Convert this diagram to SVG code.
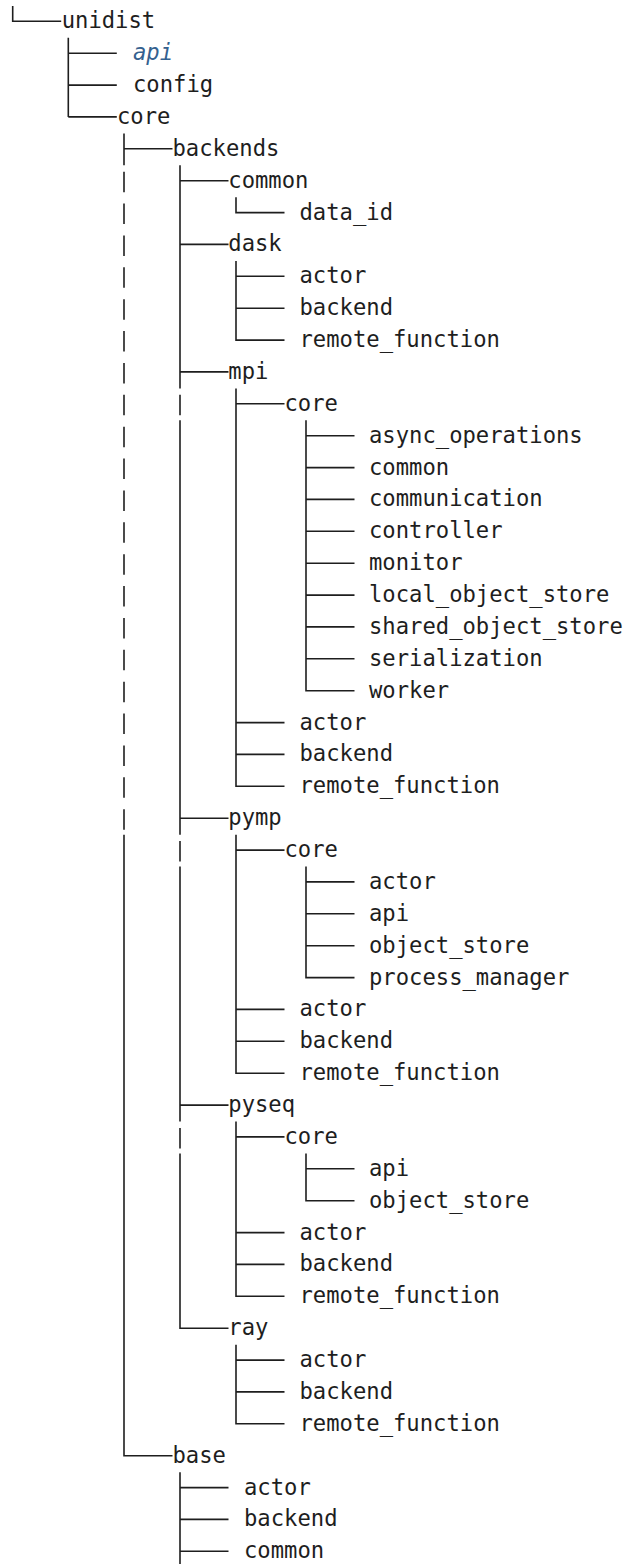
<svg xmlns="http://www.w3.org/2000/svg" width="635" height="1564" viewBox="0 0 635 1564">
  <style>
    .t { font-family: "DejaVu Sans Mono", "Liberation Mono", monospace; font-size: 22.2px; fill: #1e1e1e; }
    .ref { font-style: italic; fill: #34618f; }
    .wire { fill: none; stroke: #1e1e1e; stroke-width: 1.6; }
  </style>
  <rect width="635" height="1564" fill="#ffffff"/>

  <!-- tree connectors -->
  <g id="connectors" class="wire">
    <!-- root -->
    <path d="M12.7 5.9V21.3H61.2"/>
    <!-- unidist children -->
    <path d="M68.3 37.8V116.9M68.3 53.2H116.8M68.3 85.1H116.8M68.3 116.9H116.8"/>
    <!-- core children: backends, base -->
    <path d="M124 133.4V165.3M124 148.8H172.5"/>
    <path d="M124 171.7V192.2M124 203.6V224.1M124 235.4V255.9M124 267.3V287.8M124 299.2V319.7M124 331.1V351.6M124 362.9V383.4M124 394.8V415.3M124 426.7V447.2M124 458.6V479.1M124 490.4V510.9M124 522.3V542.8M124 554.2V574.7M124 586.1V606.6M124 617.9V638.4M124 649.8V670.3M124 681.7V702.2M124 713.6V734.1M124 745.4V765.9M124 777.3V797.8M124 809.2V829.7"/>
    <path d="M124 834.7V1455.7H172.5"/>
    <!-- backends children -->
    <path d="M180 165.3V388.4M180 394.8V415.3M180 420.3V834.7M180 841.1V861.6M180 866.5V1121.5M180 1127.9V1148.4M180 1153.4V1328.2H228.5"/>
    <path d="M180 180.7H228.5M180 244.4H228.5M180 371.9H228.5M180 818.2H228.5M180 1105.1H228.5"/>
    <!-- base children -->
    <path d="M180 1472.2V1564M180 1487.6H228.5M180 1519.4H228.5M180 1551.3H228.5"/>
    <!-- common / dask children -->
    <path d="M236 197.2V212.6H284.5"/>
    <path d="M236 260.9V340.1H284.5M236 276.3H284.5M236 308.2H284.5"/>
    <!-- mpi children -->
    <path d="M236 388.4V786.3H284.5M236 403.8H284.5M236 722.6H284.5M236 754.4H284.5"/>
    <path d="M306 420.3V690.7H354.5M306 435.7H354.5M306 467.6H354.5M306 499.4H354.5M306 531.3H354.5M306 563.2H354.5M306 595.1H354.5M306 626.9H354.5M306 658.8H354.5"/>
    <!-- pymp children -->
    <path d="M236 834.7V1073.2H284.5M236 850.1H284.5M236 1009.4H284.5M236 1041.3H284.5"/>
    <path d="M306 866.5V977.6H354.5M306 881.9H354.5M306 913.8H354.5M306 945.7H354.5"/>
    <!-- pyseq children -->
    <path d="M236 1121.5V1296.3H284.5M236 1136.9H284.5M236 1232.6H284.5M236 1264.4H284.5"/>
    <path d="M306 1153.4V1200.7H354.5M306 1168.8H354.5"/>
    <!-- ray children -->
    <path d="M236 1344.7V1423.8H284.5M236 1360.1H284.5M236 1391.9H284.5"/>
  </g>

  <!-- nodes -->
  <g id="n-unidist"><text class="t" x="61.7" y="28.3">unidist</text></g>
  <g id="n-api"><text class="t ref" x="133" y="60.2">api</text></g>
  <g id="n-config"><text class="t" x="133" y="92.1">config</text></g>
  <g id="n-core"><text class="t" x="117" y="123.9">core</text></g>
  <g id="n-backends"><text class="t" x="172.5" y="155.8">backends</text></g>
  <g id="n-backends-common"><text class="t" x="228.3" y="187.7">common</text></g>
  <g id="n-common-data_id"><text class="t" x="299.5" y="219.6">data_id</text></g>
  <g id="n-dask"><text class="t" x="228.3" y="251.4">dask</text></g>
  <g id="n-dask-actor"><text class="t" x="299.5" y="283.3">actor</text></g>
  <g id="n-dask-backend"><text class="t" x="299.5" y="315.2">backend</text></g>
  <g id="n-dask-remote_function"><text class="t" x="299.5" y="347.1">remote_function</text></g>
  <g id="n-mpi"><text class="t" x="228.3" y="378.9">mpi</text></g>
  <g id="n-mpi-core"><text class="t" x="284.5" y="410.8">core</text></g>
  <g id="n-mpi-core-async_operations"><text class="t" x="369" y="442.7">async_operations</text></g>
  <g id="n-mpi-core-common"><text class="t" x="369" y="474.6">common</text></g>
  <g id="n-mpi-core-communication"><text class="t" x="369" y="506.4">communication</text></g>
  <g id="n-mpi-core-controller"><text class="t" x="369" y="538.3">controller</text></g>
  <g id="n-mpi-core-monitor"><text class="t" x="369" y="570.2">monitor</text></g>
  <g id="n-mpi-core-local_object_store"><text class="t" x="369" y="602.1">local_object_store</text></g>
  <g id="n-mpi-core-shared_object_store"><text class="t" x="369" y="633.9">shared_object_store</text></g>
  <g id="n-mpi-core-serialization"><text class="t" x="369" y="665.8">serialization</text></g>
  <g id="n-mpi-core-worker"><text class="t" x="369" y="697.7">worker</text></g>
  <g id="n-mpi-actor"><text class="t" x="299.5" y="729.6">actor</text></g>
  <g id="n-mpi-backend"><text class="t" x="299.5" y="761.4">backend</text></g>
  <g id="n-mpi-remote_function"><text class="t" x="299.5" y="793.3">remote_function</text></g>
  <g id="n-pymp"><text class="t" x="228.3" y="825.2">pymp</text></g>
  <g id="n-pymp-core"><text class="t" x="284.5" y="857.1">core</text></g>
  <g id="n-pymp-core-actor"><text class="t" x="369" y="888.9">actor</text></g>
  <g id="n-pymp-core-api"><text class="t" x="369" y="920.8">api</text></g>
  <g id="n-pymp-core-object_store"><text class="t" x="369" y="952.7">object_store</text></g>
  <g id="n-pymp-core-process_manager"><text class="t" x="369" y="984.6">process_manager</text></g>
  <g id="n-pymp-actor"><text class="t" x="299.5" y="1016.4">actor</text></g>
  <g id="n-pymp-backend"><text class="t" x="299.5" y="1048.3">backend</text></g>
  <g id="n-pymp-remote_function"><text class="t" x="299.5" y="1080.2">remote_function</text></g>
  <g id="n-pyseq"><text class="t" x="228.3" y="1112.1">pyseq</text></g>
  <g id="n-pyseq-core"><text class="t" x="284.5" y="1143.9">core</text></g>
  <g id="n-pyseq-core-api"><text class="t" x="369" y="1175.8">api</text></g>
  <g id="n-pyseq-core-object_store"><text class="t" x="369" y="1207.7">object_store</text></g>
  <g id="n-pyseq-actor"><text class="t" x="299.5" y="1239.6">actor</text></g>
  <g id="n-pyseq-backend"><text class="t" x="299.5" y="1271.4">backend</text></g>
  <g id="n-pyseq-remote_function"><text class="t" x="299.5" y="1303.3">remote_function</text></g>
  <g id="n-ray"><text class="t" x="228.3" y="1335.2">ray</text></g>
  <g id="n-ray-actor"><text class="t" x="299.5" y="1367.1">actor</text></g>
  <g id="n-ray-backend"><text class="t" x="299.5" y="1398.9">backend</text></g>
  <g id="n-ray-remote_function"><text class="t" x="299.5" y="1430.8">remote_function</text></g>
  <g id="n-base"><text class="t" x="172.5" y="1462.7">base</text></g>
  <g id="n-base-actor"><text class="t" x="244" y="1494.6">actor</text></g>
  <g id="n-base-backend"><text class="t" x="244" y="1526.4">backend</text></g>
  <g id="n-base-common"><text class="t" x="244" y="1558.3">common</text></g>
</svg>
